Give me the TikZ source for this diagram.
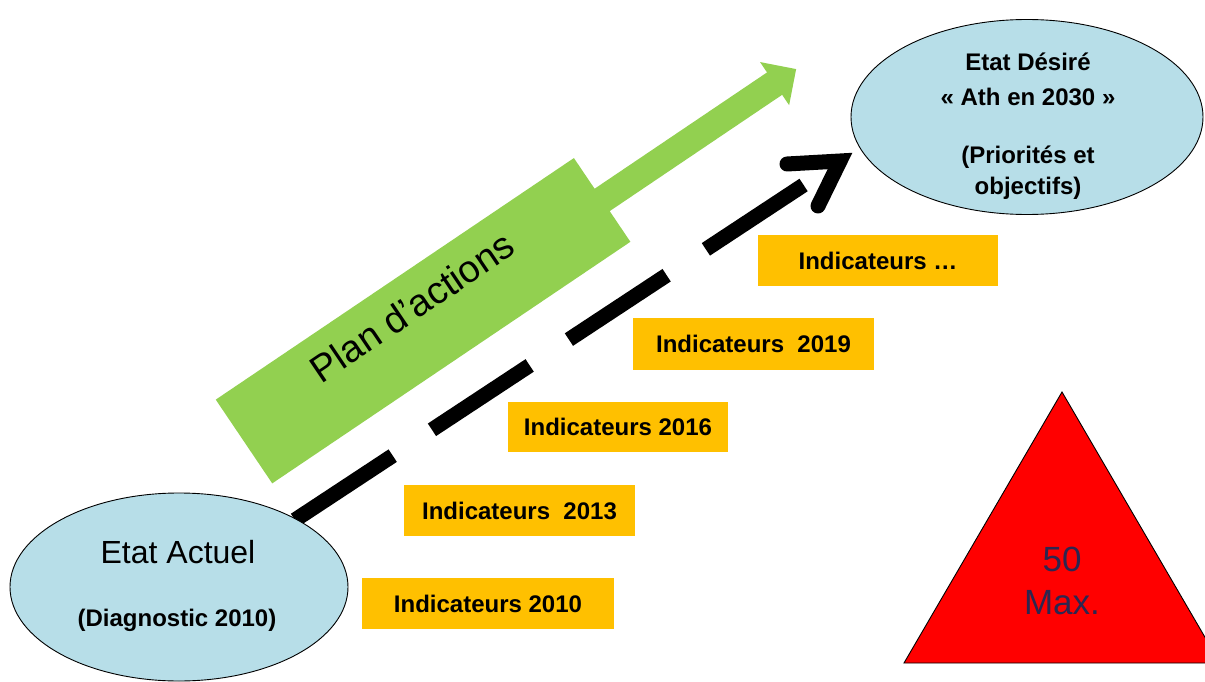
\documentclass[tikz,border=0pt]{standalone}
\usepackage{fontspec}
\setmainfont{Liberation Sans}
\usetikzlibrary{shapes.geometric}
\definecolor{skyfill}{RGB}{183,222,232}
\definecolor{leafgreen}{RGB}{146,208,80}
\definecolor{amber}{RGB}{255,192,0}
\definecolor{inkblue}{RGB}{45,38,80}
\begin{document}
\begin{tikzpicture}[x=1pt,y=-1pt,
  state/.style={ellipse, draw=black, line width=0.9pt, fill=skyfill, inner sep=0pt},
  milestone/.style={fill=amber, inner sep=0pt, text height=17pt, text depth=0pt,
    font=\bfseries\fontsize{24}{28}\selectfont},
  roadline/.style={line width=15pt, dash pattern=on 117pt off 47pt},
  roadhead/.style={line width=15pt, line cap=round, line join=miter},
]
\useasboundingbox (0,0) rectangle (1205,682);
\fill[white] (0,0) rectangle (1205,682);
\clip (0,0) rectangle (1205,682);

% green block arrow of the action plan
\begin{scope}[shift={(244,441.5)}, rotate=34]
  \fill[leafgreen] (0,-50.5) -- (432,-50.5) -- (432,-13.5) -- (640,-13.5)
    -- (640,-26) -- (666,0) -- (640,26) -- (640,13.5) -- (432,13.5)
    -- (432,50.5) -- (0,50.5) -- cycle;
\end{scope}
\node[rotate=34, font=\fontsize{38}{40}\selectfont] (plan) at (412,307) {Plan d’actions};

% dashed path from the current state towards the target
\coordinate (dstart) at (295,520);
\coordinate (dtip) at (840,161);
\coordinate (wingA) at (787,164);
\coordinate (wingB) at (818,206);
\draw[roadline] (dstart) -- (dtip);
\draw[roadhead] (wingA) -- (dtip) -- (wingB);

% states
\node[state, minimum width=338pt, minimum height=188pt] (ea) at (179,587) {};
\node[font=\fontsize{32}{36}\selectfont, anchor=base] (ealabel) at (178,563) {Etat Actuel};
\node[font=\bfseries\fontsize{24}{28}\selectfont, anchor=base] (easub) at (177,626) {(Diagnostic 2010)};

\node[state, minimum width=352pt, minimum height=195pt] (ed) at (1027,117) {};
\node[align=center, font=\bfseries\fontsize{24}{31}\selectfont] (edtext) at (1028,126)
  {Etat Désiré\\[4pt]« Ath en 2030 »\\[27pt](Priorités et\\objectifs)};

% indicator milestones
\node[milestone, minimum width=252pt, minimum height=51pt] (i2010) at (488,603.5) {Indicateurs 2010};
\node[milestone, minimum width=231pt, minimum height=51pt] (i2013) at (519.5,510.5) {Indicateurs\ \ 2013};
\node[milestone, minimum width=220pt, minimum height=50pt] (i2016) at (618,427) {Indicateurs 2016};
\node[milestone, minimum width=241pt, minimum height=52pt] (i2019) at (753.5,344) {Indicateurs\ \ 2019};
\node[milestone, minimum width=240pt, minimum height=51pt] (inext) at (878,260.5) {Indicateurs …};

% limit warning triangle
\draw[fill=red, line width=0.9pt] (904,663) -- (1062,392) -- (1220,663) -- cycle;
\node[align=center, text=inkblue, font=\fontsize{35}{43}\selectfont] (limit) at (1062,581) {50\\Max.};
\end{tikzpicture}
\end{document}
